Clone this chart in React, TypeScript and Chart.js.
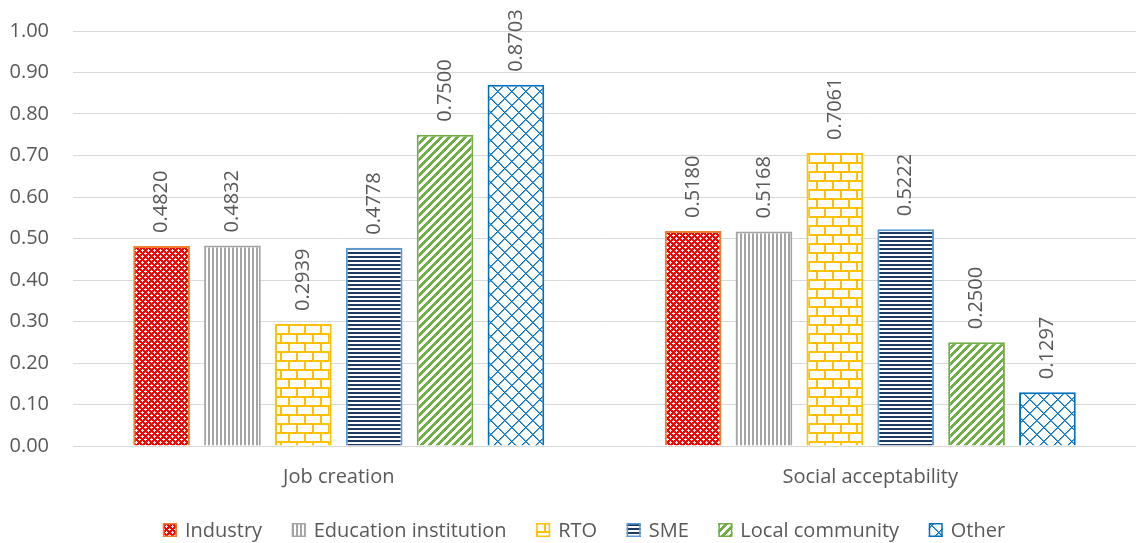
import React, { useEffect, useRef } from "react";
import { Chart, registerables } from "chart.js";

Chart.register(...registerables);

const categories = ["Job creation", "Social acceptability"];
const seriesNames = ["Industry", "Education institution", "RTO", "SME", "Local community", "Other"];
const industry = [0.482, 0.518];
const education = [0.4832, 0.5168];
const rto = [0.2939, 0.7061];
const sme = [0.4778, 0.5222];
const local = [0.75, 0.25];
const other = [0.8703, 0.1297];
const yTicks = [0, 0.1, 0.2, 0.3, 0.4, 0.5, 0.6, 0.7, 0.8, 0.9, 1.0];

const FONT = "'Open Sans', 'DejaVu Sans', sans-serif";
const TEXT = "#595959";

function makeTile(w: number, h: number, fn: (x: number, y: number) => string | null): CanvasPattern | string {
  const c = document.createElement("canvas");
  c.width = w;
  c.height = h;
  const ctx = c.getContext("2d")!;
  ctx.fillStyle = "#ffffff";
  ctx.fillRect(0, 0, w, h);
  for (let y = 0; y < h; y++) {
    for (let x = 0; x < w; x++) {
      const col = fn(x, y);
      if (col) {
        ctx.fillStyle = col;
        ctx.fillRect(x, y, 1, 1);
      }
    }
  }
  const p = ctx.createPattern(c, "repeat");
  return p || "#ffffff";
}

function buildPatterns() {
  const red = "#FF0000";
  const industryP = makeTile(6, 6, (x, y) => {
    const white =
      (x === 1 && y === 0) || (x === 0 && y === 1) || (x === 2 && y === 1) || (x === 1 && y === 2) ||
      (x === 4 && y === 3) || (x === 3 && y === 4) || (x === 5 && y === 4) || (x === 4 && y === 5) ||
      (x === 1 && y === 1) || (x === 4 && y === 4);
    return white ? null : red;
  });
  const eduP = makeTile(4, 4, (x) => (x < 2 ? "#A5A5A5" : null));
  const rtoP = makeTile(16, 18, (x, y) => {
    const gold = "#FFC000";
    if (y < 2 || (y >= 9 && y < 11)) return gold;
    if (y < 9 && x < 2) return gold;
    if (y >= 11 && x >= 8 && x < 10) return gold;
    return null;
  });
  const smeP = makeTile(4, 4, (_x, y) => (y < 2 ? "#1F3864" : null));
  const localP = makeTile(8, 8, (x, y) => ((x + y) % 8 < 4 ? "#70AD47" : null));
  const T = 14;
  const otherP = makeTile(T, T, (x, y) => {
    const a = (x + y) % T;
    const b = ((x - y) % T + T) % T;
    return a === 0 || b === 0 ? "#0070C0" : a === 1 || b === 1 ? "#5FA3D8" : null;
  });
  return [industryP, eduP, rtoP, smeP, localP, otherP];
}

const borderColors = ["#ED7D31", "#A5A5A5", "#FFC000", "#5B9BD5", "#70AD47", "#0070C0"];

const valueLabels = {
  id: "valueLabels",
  afterDatasetsDraw(chart: any) {
    const ctx = chart.ctx;
    ctx.save();
    ctx.font = `20px ${FONT}`;
    ctx.fillStyle = TEXT;
    ctx.textAlign = "left";
    ctx.textBaseline = "middle";
    chart.data.datasets.forEach((ds: any, i: number) => {
      const meta = chart.getDatasetMeta(i);
      meta.data.forEach((el: any, j: number) => {
        const v = ds.data[j];
        ctx.save();
        ctx.translate(el.x, el.y - 13);
        ctx.rotate(-Math.PI / 2);
        ctx.fillText(v.toFixed(4), 0, 0);
        ctx.restore();
      });
    });
    ctx.restore();
  },
};

const customLegend = {
  id: "customLegend",
  afterDraw(chart: any) {
    const ctx = chart.ctx;
    const ds = chart.data.datasets;
    ctx.save();
    ctx.font = `20px ${FONT}`;
    ctx.textBaseline = "middle";
    ctx.textAlign = "left";
    const box = 14;
    const gap = 8;
    const spacing = 29.6;
    const widths = ds.map((d: any) => box + gap + ctx.measureText(d.label).width);
    const total = widths.reduce((a: number, b: number) => a + b, 0) + spacing * (ds.length - 1);
    let x = 584 - total / 2;
    const cy = 530;
    ds.forEach((d: any, i: number) => {
      ctx.fillStyle = d.backgroundColor;
      ctx.fillRect(x, cy - box / 2, box, box);
      ctx.strokeStyle = d.borderColor;
      ctx.lineWidth = 1.5;
      ctx.strokeRect(x + 0.75, cy - box / 2 + 0.75, box - 1.5, box - 1.5);
      ctx.fillStyle = TEXT;
      ctx.fillText(d.label, x + box + gap, cy + 1);
      x += widths[i] + spacing;
    });
    ctx.restore();
  },
};

export default function App() {
  const ref = useRef<HTMLCanvasElement>(null);
  useEffect(() => {
    document.body.style.margin = "0";
    const patterns = buildPatterns();
    const series = [industry, education, rto, sme, local, other];
    const chart = new Chart(ref.current!, {
      type: "bar",
      data: {
        labels: categories,
        datasets: series.map((d, i) => ({
          label: seriesNames[i],
          data: d,
          backgroundColor: patterns[i] as any,
          borderColor: borderColors[i],
          borderWidth: 2,
          categoryPercentage: 0.8,
          barPercentage: 0.8,
        })),
      },
      options: {
        responsive: false,
        animation: false,
        layout: { autoPadding: false, padding: { left: 9, right: 0, top: 31, bottom: 35 } },
        plugins: {
          tooltip: { enabled: false },
          legend: { display: false },
        },
        scales: {
          x: {
            grid: { display: false, drawTicks: false },
            border: { display: true, color: "#D9D9D9", width: 1 },
            ticks: { font: { family: FONT, size: 20 }, color: TEXT, padding: 19 },
          },
          y: {
            min: 0,
            max: 1,
            afterBuildTicks: (axis: any) => {
              axis.ticks = yTicks.map((v) => ({ value: v }));
            },
            afterFit: (axis: any) => {
              axis.width = 64;
              axis.paddingTop = 0;
              axis.paddingBottom = 0;
            },
            grid: { color: "#D9D9D9", lineWidth: 1, drawTicks: false },
            border: { display: false },
            ticks: {
              font: { family: FONT, size: 20 },
              color: TEXT,
              padding: 24,
              callback: (v: any) => Number(v).toFixed(2),
            },
          },
        },
      },
      plugins: [valueLabels, customLegend],
    });
    return () => chart.destroy();
  }, []);
  return <canvas ref={ref} width={1136} height={543} style={{ display: "block" }} />;
}
